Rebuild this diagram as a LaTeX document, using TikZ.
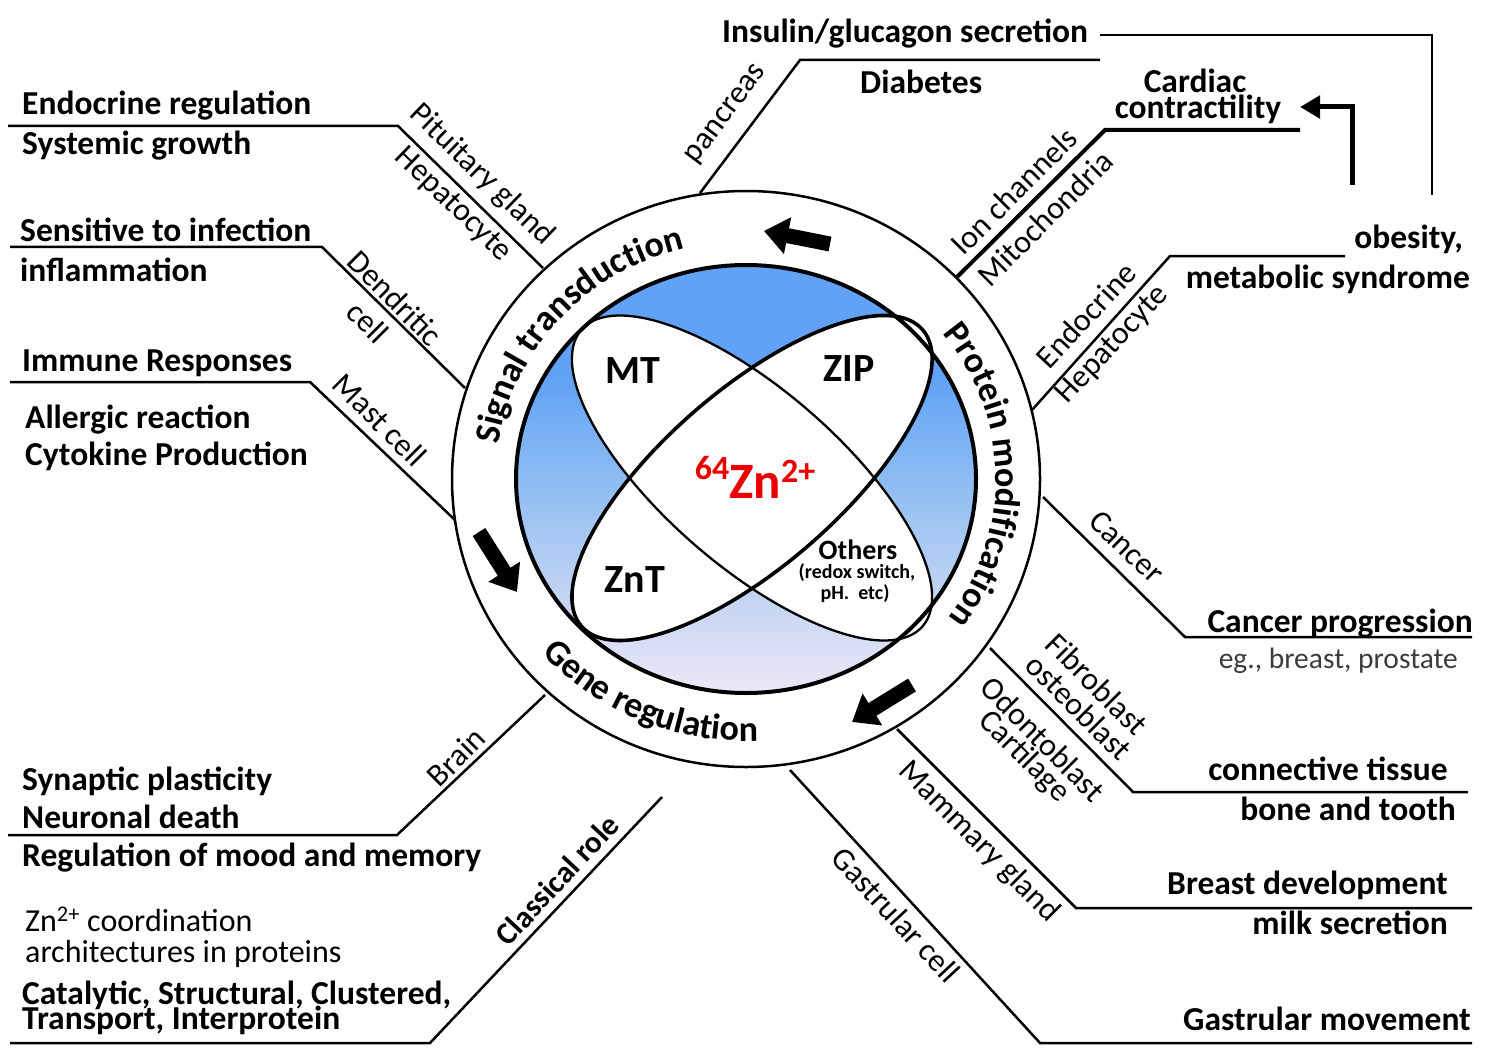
\documentclass[tikz,border=0pt]{standalone}
\usepackage{fontspec}
\setmainfont{Carlito}
\usetikzlibrary{arrows.meta,decorations.text}
\definecolor{blueA}{RGB}{97,162,246}
\definecolor{blueB}{RGB}{140,188,242}
\definecolor{blueC}{RGB}{192,211,243}
\definecolor{lavD}{RGB}{238,232,247}
\definecolor{greyT}{RGB}{60,60,60}
\definecolor{znred}{RGB}{235,0,0}
\pgfdeclareverticalshading{discshade}{100bp}{color(0bp)=(lavD); color(25bp)=(lavD); color(37bp)=(blueC); color(50bp)=(blueB); color(62bp)=(blueA); color(100bp)=(blueA)}
\newcommand\bigb{\bfseries\fontsize{33.5}{36}\selectfont}
\newcommand\regf{\fontsize{32}{36}\selectfont}
\newcommand\ringf{\bfseries\fontsize{36}{40}\selectfont}
\begin{document}
\begin{tikzpicture}[x=1pt,y=1pt,
  lbl/.style={inner sep=0pt, font=\bigb},
  sub/.style={inner sep=0pt, font=\regf},
  conn/.style={line width=2.5pt, line join=miter},
  ringarrow/.style={line width=15pt, -{Triangle[length=24pt,width=36pt]}},
  inner/.style={inner sep=0pt, font=\bfseries\fontsize{40}{44}\selectfont}
]
\useasboundingbox (0,0) rectangle (1495,-1059);
\coordinate (O) at (746,-479);
\coordinate (E) at (752,-478);
% disc and ellipses
\shade[shading=discshade] (O) ellipse [x radius=230, y radius=214];
\fill[white, rotate around={-41:(E)}] (E) ellipse [x radius=226, y radius=88];
\fill[white, rotate around={41:(E)}] (E) ellipse [x radius=226, y radius=88];
\draw[line width=2.3pt, rotate around={-41:(E)}] (E) ellipse [x radius=226, y radius=88];
\draw[line width=3.6pt, rotate around={41:(E)}] (E) ellipse [x radius=226, y radius=88];
\draw[line width=4pt] (O) ellipse [x radius=230, y radius=214];
\draw[line width=2.5pt] (O) ellipse [x radius=294, y radius=288];
% ring texts
\path[decorate, decoration={text along path, text={|\ringf|Signal transduction}, text align=center}]
  (O) ++(178:250 and 238) arc [start angle=178, end angle=98, x radius=250, y radius=238];
\path[decorate, decoration={text along path, text={|\ringf|Protein modification}, text align=center}]
  (O) ++(42:250 and 236) arc [start angle=42, end angle=-40, x radius=250, y radius=236];
\path[decorate, decoration={text along path, text={|\ringf|Gene regulation}, text align=center}]
  (O) ++(212:273 and 262) arc [start angle=212, end angle=282, x radius=273, y radius=262];
% ring arrows
\coordinate (ta1) at (830,-244); \coordinate (ta2) at (764,-231);
\coordinate (la1) at (479,-532); \coordinate (la2) at (517,-592);
\coordinate (ra1) at (912,-685); \coordinate (ra2) at (852,-722);
\draw[ringarrow] (ta1) -- (ta2);
\draw[ringarrow] (la1) -- (la2);
\draw[ringarrow] (ra1) -- (ra2);
% inner labels
\node[inner] (mt) at (633,-371) {MT};
\node[inner] (zip) at (849,-369) {ZIP};
\node[inner] (znt) at (635,-580) {ZnT};
\node[inner sep=0pt, font=\bfseries\fontsize{28}{30}\selectfont] (oth) at (858,-550) {Others};
\node[inner sep=0pt, font=\bfseries\fontsize{20}{22}\selectfont] (redox) at (857,-573) {(redox switch,};
\node[inner sep=0pt, font=\bfseries\fontsize{20}{22}\selectfont] (ph) at (855,-594) {pH.\ \ etc)};
\node[inner sep=0pt, anchor=base, text=znred, font=\bfseries\fontsize{51}{54}\selectfont] (zn) at (755,-498)
  {\raisebox{19pt}{\fontsize{34}{34}\selectfont 64}Zn\raisebox{16pt}{\fontsize{34}{34}\selectfont 2+}};
% connector points
\coordinate (a1) at (543,-268); \coordinate (a2) at (398,-126); \coordinate (a3) at (8,-126);
\coordinate (b1) at (465,-388); \coordinate (b2) at (322,-247); \coordinate (b3) at (10,-247);
\coordinate (c1) at (455,-520); \coordinate (c2) at (310,-382); \coordinate (c3) at (10,-382);
\coordinate (d1) at (700,-193); \coordinate (d2) at (800,-60); \coordinate (d3) at (1100,-60);
\coordinate (e1) at (1100,-35); \coordinate (e2) at (1432,-35); \coordinate (e3) at (1432,-195);
\coordinate (f1) at (957,-277); \coordinate (f2) at (1105,-130); \coordinate (f3) at (1300,-130);
\coordinate (g1) at (1352,-185); \coordinate (g2) at (1352,-107); \coordinate (g3) at (1300,-107);
\coordinate (h1) at (1032,-410); \coordinate (h2) at (1170,-256); \coordinate (h3) at (1345,-256);
\coordinate (i1) at (1043,-497); \coordinate (i2) at (1185,-637); \coordinate (i3) at (1472,-637);
\coordinate (j1) at (990,-648); \coordinate (j2) at (1133,-792); \coordinate (j3) at (1468,-792);
\coordinate (k1) at (897,-729); \coordinate (k2) at (1076,-908); \coordinate (k3) at (1472,-908);
\coordinate (l1) at (790,-770); \coordinate (l2) at (1040,-1043); \coordinate (l3) at (1472,-1043);
\coordinate (m1) at (545,-695); \coordinate (m2) at (397,-835); \coordinate (m3) at (8,-835);
\coordinate (n1) at (662,-797); \coordinate (n2) at (430,-1043); \coordinate (n3) at (10,-1043);
\draw[conn] (a1) -- (a2) -- (a3);
\draw[conn] (b1) -- (b2) -- (b3);
\draw[conn] (c1) -- (c2) -- (c3);
\draw[conn] (d1) -- (d2) -- (d3);
\draw[conn] (e1) -- (e2) -- (e3);
\draw[conn, line width=4pt] (f1) -- (f2) -- (f3);
\draw[line width=5pt, -{Triangle[length=20pt,width=22pt]}] (g1) -- (g2) -- (g3);
\draw[conn] (h1) -- (h2) -- (h3);
\draw[conn] (i1) -- (i2) -- (i3);
\draw[conn] (j1) -- (j2) -- (j3);
\draw[conn] (k1) -- (k2) -- (k3);
\draw[conn] (l1) -- (l2) -- (l3);
\draw[conn] (m1) -- (m2) -- (m3);
\draw[conn] (n1) -- (n2) -- (n3);
% rotated small labels
\node[sub, rotate=-44] (pit) at (482,-175) {Pituitary gland};
\node[sub, rotate=-44] (hep1) at (453,-205) {Hepatocyte};
\node[sub, rotate=-45] (dend) at (395,-298) {Dendritic};
\node[sub, rotate=-45] (cella) at (368,-322) {cell};
\node[sub, rotate=-45] (mast) at (380,-420) {Mast cell};
\node[sub, rotate=53] (panc) at (727,-115) {pancreas};
\node[sub, rotate=45] (ion) at (1014,-191) {Ion channels};
\node[sub, rotate=45] (mito) at (1045,-218) {Mitochondria};
\node[sub, rotate=47] (endo) at (1086,-315) {Endocrine};
\node[sub, rotate=47] (hep2) at (1113,-345) {Hepatocyte};
\node[sub, rotate=-44] (canc) at (1127,-547) {Cancer};
\node[sub, rotate=-45] (fibro) at (1097,-684) {Fibroblast};
\node[sub, rotate=-45] (osteo) at (1079,-707) {osteoblast};
\node[sub, rotate=-45] (odon) at (1043,-739) {Odontoblast};
\node[sub, rotate=-45] (cart) at (1024,-757) {Cartilage};
\node[sub, rotate=-45] (mamm) at (979,-842) {Mammary gland};
\node[sub, rotate=-47] (gast) at (896,-915) {Gastrular cell};
\node[sub, rotate=45] (brain) at (456,-757) {Brain};
\node[inner sep=0pt, rotate=47, font=\bfseries\fontsize{31}{34}\selectfont] (class) at (557,-880) {Classical role};
% left labels
\node[lbl, anchor=base west] (t1) at (22,-115) {Endocrine regulation};
\node[lbl, anchor=base west] (t2) at (22,-155) {Systemic growth};
\node[lbl, anchor=base west] (t3) at (20,-241) {Sensitive to infection};
\node[lbl, anchor=base west] (t4) at (20,-281) {inflammation};
\node[lbl, anchor=base west] (t5) at (22,-371) {Immune Responses};
\node[lbl, anchor=base west] (t6) at (25,-428) {Allergic reaction};
\node[lbl, anchor=base west] (t7) at (25,-465) {Cytokine Production};
\node[lbl, anchor=base west] (t8) at (22,-790) {Synaptic plasticity};
\node[lbl, anchor=base west] (t9) at (22,-828) {Neuronal death};
\node[lbl, anchor=base west] (t10) at (22,-866) {Regulation of mood and memory};
\node[sub, anchor=base west] (t11) at (25,-931) {Zn\textsuperscript{2+} coordination};
\node[sub, anchor=base west] (t12) at (25,-962) {architectures in proteins};
\node[lbl, anchor=base west] (t13) at (22,-1004) {Catalytic, Structural, Clustered,};
\node[lbl, anchor=base west] (t14) at (22,-1029) {Transport, Interprotein};
% top and right labels
\node[lbl, anchor=base west] (r1) at (722,-43) {Insulin/glucagon secretion};
\node[lbl, anchor=base west] (r2) at (860,-94) {Diabetes};
\node[lbl, anchor=base] (r3) at (1195,-93) {Cardiac};
\node[lbl, anchor=base] (r4) at (1198,-119) {contractility};
\node[lbl, anchor=base east] (r5) at (1463,-248) {obesity,};
\node[lbl, anchor=base east] (r6) at (1470,-288) {metabolic syndrome};
\node[lbl, anchor=base east] (r7) at (1473,-632) {Cancer progression};
\node[sub, anchor=base east, text=greyT, font=\fontsize{29.5}{32}\selectfont] (r8) at (1458,-668) {eg., breast, prostate};
\node[lbl, anchor=base east] (r9) at (1448,-780) {connective tissue};
\node[lbl, anchor=base east] (r10) at (1456,-820) {bone and tooth};
\node[lbl, anchor=base east] (r11) at (1448,-894) {Breast development};
\node[lbl, anchor=base east] (r12) at (1448,-934) {milk secretion};
\node[lbl, anchor=base east] (r13) at (1471,-1030) {Gastrular movement};
\end{tikzpicture}
\end{document}
